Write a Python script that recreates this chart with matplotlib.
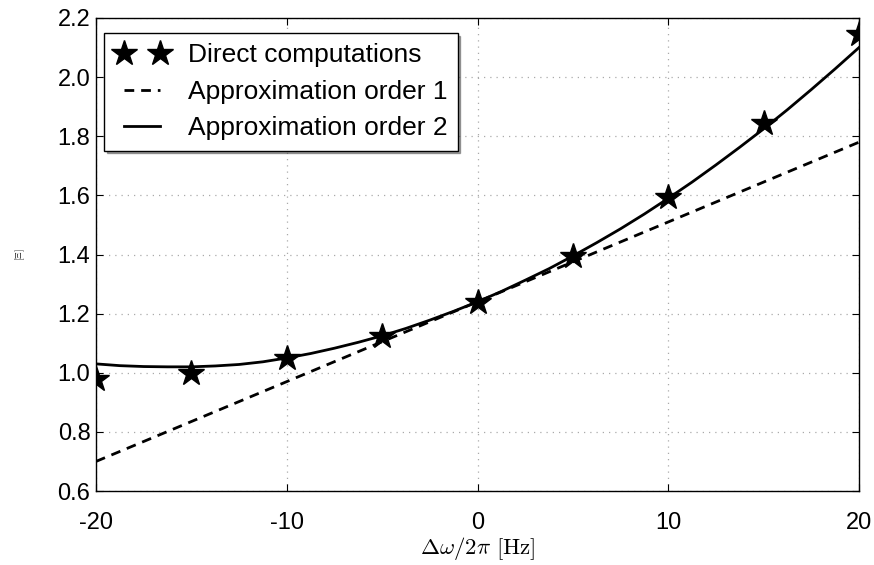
import numpy as np
import matplotlib
matplotlib.use("Agg")
import matplotlib.pyplot as plt
from matplotlib.lines import Line2D
from matplotlib.legend_handler import HandlerLine2D

# data
x_direct = [-20, -15, -10, -5, 0, 5, 10, 15, 20]
y_direct = [0.98, 1.00, 1.05, 1.125, 1.24, 1.395, 1.595, 1.845, 2.145]

x_order1 = [-20, 20]
y_order1 = [0.70, 1.78]

x_order2 = [-20, -18.75, -17.5, -16.25, -15, -13.75, -12.5, -11.25, -10,
            -8.75, -7.5, -6.25, -5, -3.75, -2.5, -1.25, 0,
            1.25, 2.5, 3.75, 5, 6.25, 7.5, 8.75, 10,
            11.25, 12.5, 13.75, 15, 16.25, 17.5, 18.75, 20]
y_order2 = [1.030, 1.024, 1.021, 1.020, 1.020, 1.023, 1.028, 1.037, 1.050,
            1.065, 1.083, 1.103, 1.125, 1.150, 1.178, 1.208, 1.240,
            1.275, 1.313, 1.352, 1.395, 1.440, 1.487, 1.537, 1.590,
            1.645, 1.703, 1.763, 1.825, 1.890, 1.958, 2.028, 2.100]

xticks = [-20, -10, 0, 10, 20]
yticks = [0.6, 0.8, 1.0, 1.2, 1.4, 1.6, 1.8, 2.0, 2.2]

plt.rcParams['font.family'] = ['Liberation Sans', 'DejaVu Sans']
plt.rcParams['mathtext.fontset'] = 'cm'

fig = plt.figure(figsize=(8.74, 5.65), dpi=100)
ax = fig.add_axes([96 / 874, 1 - 491 / 565, (859 - 96) / 874, (491 - 18) / 565])

ax.plot(x_direct, y_direct, linestyle='none', marker='*', markersize=19,
        color='black', label='Direct computations')
ax.plot(x_order1, y_order1, linestyle=(0, (3.5, 2.5)), linewidth=2.0,
        color='black', label='Approximation order 1')
ax.plot(x_order2, y_order2, linestyle='-', linewidth=2.0,
        color='black', label='Approximation order 2')

ax.set_xlim(-20, 20)
ax.set_ylim(0.6, 2.2)
ax.set_xticks(xticks)
ax.set_xticklabels([str(t) for t in xticks])
ax.set_yticks(yticks)
ax.set_yticklabels(['%.1f' % t for t in yticks])
ax.tick_params(direction='in', top=True, right=True, labelsize=17,
               length=5, width=0.8)
ax.tick_params(axis='x', pad=15)
ax.tick_params(axis='y', pad=4)
ax.grid(True, linestyle=(0, (1, 4)), color='#aaaaaa', linewidth=0.9)
for s in ax.spines.values():
    s.set_linewidth(1.0)

ax.set_xlabel(r'$\Delta\omega/2\pi\ [\mathrm{Hz}]$', fontsize=16.5, labelpad=0.5)
ax.set_ylabel(r'$[\Xi]$', fontsize=7, labelpad=22)

leg = ax.legend(loc='upper left', numpoints=2, fontsize=19, fancybox=False,
                shadow=True, framealpha=1, edgecolor='black',
                borderpad=0.38, handlelength=1.82, handletextpad=0.98,
                labelspacing=0.48, borderaxespad=0,
                bbox_to_anchor=(0.0105, 0.968),
                handler_map={Line2D: HandlerLine2D(xpad=0.3, marker_pad=0.075,
                                                   numpoints=2)})
leg.get_frame().set_linewidth(1.0)

fig.savefig('out.png', dpi=100)
